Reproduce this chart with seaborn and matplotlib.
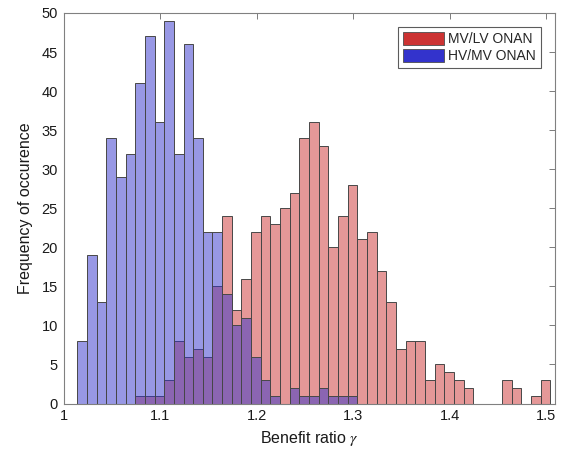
import numpy as np
import pandas as pd
import seaborn as sns
import matplotlib
matplotlib.use("Agg")
import matplotlib.pyplot as plt
from matplotlib.patches import Patch

# Histogram bins (width 0.01) and the counts in each bin
bin_start = 1.0143
bin_width = 0.01
n_bins = 49

mv_lv_counts = [0, 0, 0, 0, 0, 0, 1, 1, 1, 3,
                8, 6, 7, 6, 15, 24, 12, 16, 22, 24,
                23, 25, 27, 34, 36, 33, 20, 24, 28, 21,
                22, 17, 13, 7, 8, 8, 3, 5, 4, 3,
                2, 0, 0, 0, 3, 2, 0, 1, 3]
hv_mv_counts = [8, 19, 13, 34, 29, 32, 41, 47, 36, 49,
                32, 46, 34, 22, 22, 14, 10, 11, 6, 3,
                1, 0, 2, 1, 1, 2, 1, 1, 1, 0,
                0, 0, 0, 0, 0, 0, 0, 0, 0, 0,
                0, 0, 0, 0, 0, 0, 0, 0, 0]
series_names = ["MV/LV ONAN", "HV/MV ONAN"]
x_ticks = [1.0, 1.1, 1.2, 1.3, 1.4, 1.5]
x_tick_labels = ["1", "1.1", "1.2", "1.3", "1.4", "1.5"]
y_ticks = list(range(0, 51, 5))

bin_end = bin_start + bin_width * n_bins
centers = bin_start + bin_width * (np.arange(n_bins) + 0.5)
df = pd.DataFrame({
    "ratio": np.concatenate([centers, centers]),
    "count": np.concatenate([mv_lv_counts, hv_mv_counts]),
    "series": [series_names[0]] * n_bins + [series_names[1]] * n_bins,
})

sns.set_style("white")
plt.rcParams["font.family"] = ["Liberation Sans", "DejaVu Sans"]
plt.rcParams["mathtext.fontset"] = "stix"

colors = {series_names[0]: (0.8, 0.2, 0.2), series_names[1]: (0.2, 0.2, 0.8)}

fig = plt.figure(figsize=(5.63, 4.53), dpi=100)
ax = fig.add_axes([63.5 / 563, 49.5 / 453, (555 - 63.5) / 563, (440 - 49.5) / 453])

for name in series_names:
    sub = df[df["series"] == name]
    sns.histplot(data=sub, x="ratio", weights="count", bins=n_bins,
                 binrange=(bin_start, bin_end), ax=ax,
                 color=colors[name], alpha=0.5, edgecolor=(0.28, 0.28, 0.28),
                 linewidth=0.7, element="bars", fill=True)

ax.set_xlim(1.0, 1.509)
ax.set_ylim(0, 50)
ax.set_xticks(x_ticks)
ax.set_xticklabels(x_tick_labels)
ax.set_yticks(y_ticks)

ax.tick_params(axis="both", direction="in", length=4, width=0.6, color=(0.4, 0.4, 0.4),
               labelsize=10.5, labelcolor=(0.1, 0.1, 0.1), top=True, right=True, pad=4)
for side in ["left", "right", "top", "bottom"]:
    ax.spines[side].set_visible(True)
    ax.spines[side].set_color((0.5, 0.5, 0.5))
    ax.spines[side].set_linewidth(0.8)

ax.set_xlabel(r"Benefit ratio $\gamma$", fontsize=11.5, color=(0.1, 0.1, 0.1), labelpad=4)
ax.set_ylabel("Frequency of occurence", fontsize=11.5, color=(0.1, 0.1, 0.1), labelpad=6)

handles = [Patch(facecolor=colors[n], edgecolor=(0.3, 0.3, 0.3), linewidth=0.6) for n in series_names]
leg = ax.legend(handles, series_names, loc="upper right", bbox_to_anchor=(0.98, 0.975),
                fontsize=10, frameon=True, fancybox=False, handlelength=3.0, handleheight=1.1,
                handletextpad=0.3, borderpad=0.35, labelspacing=0.2, borderaxespad=0.3)
leg.get_frame().set_edgecolor((0.2, 0.2, 0.2))
leg.get_frame().set_linewidth(0.8)

fig.savefig("out.png", dpi=100)
